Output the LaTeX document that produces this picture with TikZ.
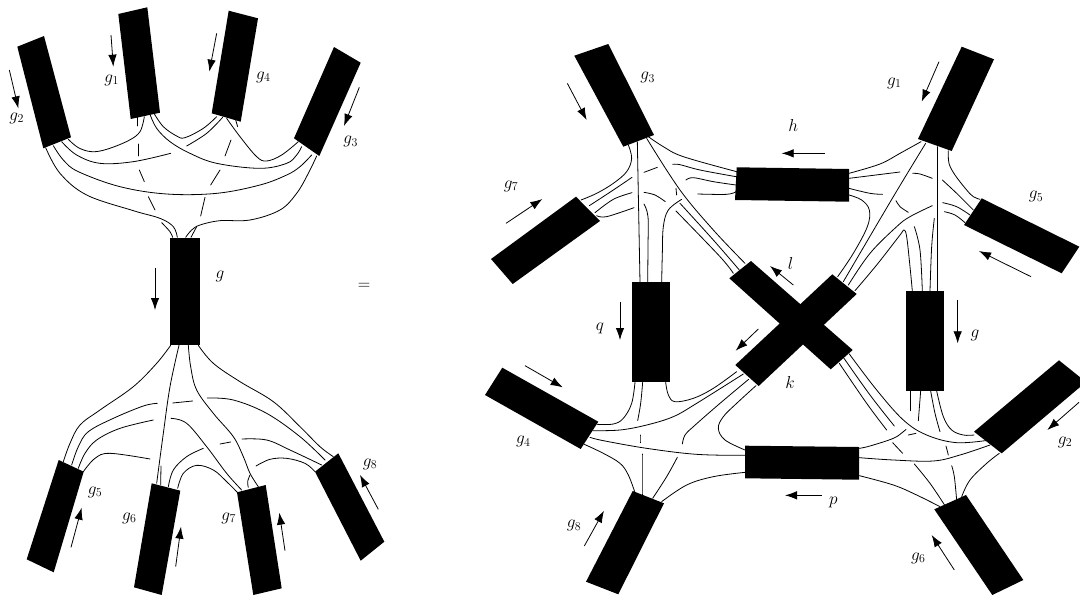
\documentclass[tikz,border=0pt]{standalone}
\usetikzlibrary{arrows.meta}
\tikzset{
  zoomview/.style 2 args={shift={(#1,#2)},x=0.33333pt,y=-0.33333pt},
  bar/.style={fill=black,draw=none},
  wire/.style={line width=0.8pt,line cap=round,line join=round},
  flow/.style={line width=0.8pt,-{Latex[length=12pt,width=8.5pt]}},
  lab/.style={inner sep=0pt,font=\LARGE}
}
\newcommand\wirepath[1]{\draw[wire] plot[smooth,tension=0.6] coordinates {#1};}
\begin{document}
\begin{tikzpicture}[x=1pt,y=-1pt]
\useasboundingbox (0,0) rectangle (1080,595);
\clip (0,0) rectangle (1080,595);
% left blocks
\fill[bar] (17.3,46.7)--(44,36)--(71,137.3)--(43.3,148.3)--cycle;
\fill[bar] (118.3,14)--(147.3,7.3)--(160,112.7)--(130.7,119)--cycle;
\fill[bar] (228.7,10.7)--(258,18.3)--(240.7,121.7)--(211.7,113.3)--cycle;
\fill[bar] (334,47)--(360.7,62.7)--(319.3,156)--(294,138.3)--cycle;
\fill[bar] (170,238) rectangle (200,345);
\fill[bar] (58.7,460)--(83.7,471.7)--(53.7,572.3)--(26.7,559.3)--cycle;
\fill[bar] (151.7,483.3)--(180.3,490.7)--(161.7,595)--(134,587.3)--cycle;
\fill[bar] (237,492.3)--(265.7,485)--(281.7,588.3)--(253.3,595)--cycle;
\fill[bar] (315,471.7)--(338.3,453.3)--(384.3,541.7)--(360.7,560.7)--cycle;
% right blocks
\fill[bar] (574.3,55.7)--(608.3,44)--(654,135)--(623.3,146.7)--cycle;
\fill[bar] (576,196.7)--(600,221)--(512.7,284)--(491,259)--cycle;
\fill[bar] (736.7,167.3)--(849,169)--(849,201.7)--(735,200)--cycle;
\fill[bar] (631.7,282.3) rectangle (670.3,381.7);
\fill[bar] (906,291) rectangle (944.3,391);
\fill[bar] (961.7,46.7)--(994,59.3)--(951.7,151)--(918,139)--cycle;
\fill[bar] (981.7,198.3)--(1079.3,246.7)--(1061.7,273.3)--(964,225)--cycle;
\fill[bar] (751,261)--(729.3,278.3)--(830.7,369.3)--(852.7,350)--cycle;
\fill[bar] (735.3,365)--(758.7,386)--(856.7,294)--(832.3,274.3)--cycle;
\fill[bar] (1059,360.3)--(1086,382)--(1001.7,453.3)--(974,431.7)--cycle;
\fill[bar] (934.3,509.3)--(966,495)--(1023.3,580)--(992.3,595)--cycle;
\fill[bar] (745,445.7)--(859,447)--(859,479.7)--(745,478.3)--cycle;
\fill[bar] (502.3,367.7)--(598.3,421.7)--(580.7,449)--(485,395)--cycle;
\fill[bar] (632.7,491)--(664,503.3)--(618.3,594.3)--(586,581.7)--cycle;
% top-left
\begin{scope}[zoomview={0}{0}]
\wirepath{(205,418)(235,443)(275,455)(320,448)(385,422)(420,395)(433,350)}
\wirepath{(185,425)(230,465)(300,490)(400,485)(512,460)}
\wirepath{(560,438)(620,400)(668,352)}
\wirepath{(160,437)(190,480)(235,515)(360,560)(500,582)(650,580)(780,555)(860,525)(900,500)(935,465)}
\wirepath{(137,443)(180,520)(260,585)(400,632)(480,655)(520,680)(532,712)}
\wirepath{(450,343)(470,385)(510,425)(570,460)(650,490)(780,505)(860,490)(890,465)(905,440)}
\wirepath{(462,340)(490,380)(530,408)(555,413)(610,385)(650,350)}
\wirepath{(680,355)(720,410)(770,470)(800,483)(845,465)(895,425)}
\wirepath{(950,468)(925,520)(890,580)(840,630)(750,660)(660,662)(600,675)(575,690)(557,712)}
\wirepath{(412,352)(412,378)}
\wirepath{(416,432)(416,468)}
\wirepath{(418,510)(433,545)}
\wirepath{(445,590)(465,630)}
\wirepath{(485,668)(510,695)(518,712)}
\wirepath{(707,360)(713,380)}
\wirepath{(693,420)(675,468)}
\wirepath{(660,510)(632,555)}
\wirepath{(615,592)(602,648)}
\wirepath{(590,680)(573,712)}
\draw[flow] (333,105)--(340,200);
\draw[flow] (28,210)--(55,325);
\draw[flow] (650,100)--(628,215);
\draw[flow] (1078,262)--(1032,378);
\draw[flow] (465,805)--(465,930);
\node[lab] (lg1) at (335,240) {$g_1$};
\node[lab] (lg2) at (50,355) {$g_2$};
\node[lab] (lg4) at (790,232) {$g_4$};
\node[lab] (lg3) at (1052,425) {$g_3$};
\node[lab] (lg) at (660,830) {$g$};
\node[lab] (eq) at (1092,858) {$=$};
\end{scope}
% bottom-left
\begin{scope}[zoomview={0}{330}]
\wirepath{(512,46)(470,100)(400,170)(300,240)(240,285)(210,340)(190,395)}
\wirepath{(537,46)(510,170)(490,310)(470,460)}
\wirepath{(565,46)(572,110)(590,180)(640,250)(700,320)(730,380)(750,430)(775,470)}
\wirepath{(595,46)(640,100)(720,155)(820,215)(900,290)(960,350)(1000,380)}
\wirepath{(215,405)(235,350)(265,305)(340,265)(430,228)(472,220)}
\wirepath{(518,219)(578,213)}
\wirepath{(622,204)(700,210)(800,250)(900,320)(975,390)}
\wirepath{(235,415)(255,370)(290,330)(360,295)(460,270)}
\wirepath{(513,265)(560,280)(620,350)(680,430)(725,480)}
\wirepath{(250,425)(285,385)(330,370)(450,387)}
\wirepath{(768,408)(810,388)(860,385)(915,400)(945,425)}
\wirepath{(483,408)(482,465)}
\wirepath{(505,470)(520,420)(560,380)(610,355)}
\wirepath{(660,342)(692,336)}
\wirepath{(726,327)(800,330)(870,360)(965,405)}
\wirepath{(533,475)(550,430)(590,406)(640,420)(680,455)(712,487)}
\wirepath{(750,435)(743,455)(745,472)}
\draw[flow] (213,652)--(245,533);
\draw[flow] (527,710)--(543,590);
\draw[flow] (855,662)--(838,548);
\draw[flow] (1135,538)--(1080,435);
\node[lab] (lg5) at (285,487) {$g_5$};
\node[lab] (lg6) at (388,565) {$g_6$};
\node[lab] (lg7) at (686,565) {$g_7$};
\node[lab] (lg8) at (1110,402) {$g_8$};
\end{scope}
% right, top-left
\begin{scope}[zoomview={480}{40}]
\wirepath{(505,290)(550,320)(610,350)(770,395)}
\wirepath{(578,373)(600,374)(660,390)(768,410)}
\wirepath{(618,420)(640,413)(700,425)(768,435)}
\wirepath{(653,462)(740,463)(768,455)}
\wirepath{(500,295)(600,450)(700,570)(795,670)}
\wirepath{(472,305)(480,727)}
\wirepath{(445,315)(455,355)(440,395)(400,430)(350,460)(303,480)}
\wirepath{(328,497)(400,450)(456,412)}
\wirepath{(492,397)(532,382)}
\wirepath{(345,518)(400,478)(456,458)}
\wirepath{(492,457)(525,465)(556,485)}
\wirepath{(350,527)(380,530)(462,503)}
\wirepath{(503,727)(504,620)(504,530)(492,492)}
\wirepath{(545,727)(547,640)(550,560)(565,510)(605,478)}
\wirepath{(600,490)(700,600)(778,690)}
\wirepath{(588,513)(720,650)(760,700)}
\wirepath{(588,445)(590,465)}
\draw[flow] (262,130)--(320,240);
\draw[flow] (78,550)--(187,477);
\draw[flow] (940,735)--(870,678);
\node[lab] (rg3) at (503,113) {$g_3$};
\node[lab] (rg7) at (93,438) {$g_7$};
\node[lab] (rh) at (940,257) {$h$};
\node[lab] (rl) at (932,670) {$l$};
\end{scope}
% right, top-right
\begin{scope}[zoomview={760}{40}]
\wirepath{(267,400)(360,372)(420,340)(483,305)}
\wirepath{(267,415)(420,396)}
\wirepath{(458,400)(480,402)(517,415)}
\wirepath{(267,445)(330,460)(368,463)}
\wirepath{(267,465)(305,480)(328,510)(322,560)(280,640)(233,710)}
\wirepath{(497,310)(400,470)(250,725)}
\wirepath{(533,320)(533,753)}
\wirepath{(565,332)(567,370)(585,405)(620,450)(640,470)(660,478)}
\wirepath{(547,420)(590,460)(640,510)}
\wirepath{(548,488)(590,500)(630,525)}
\wirepath{(553,515)(585,525)(615,548)}
\wirepath{(408,482)(420,500)(445,517)}
\wirepath{(265,735)(330,640)(410,560)(450,530)(517,497)}
\wirepath{(285,752)(350,675)(420,585)(432,570)(440,590)(450,680)(457,753)}
\wirepath{(463,560)(480,630)(487,753)}
\wirepath{(523,535)(515,620)(510,753)}
\draw[flow] (195,340)--(65,340);
\draw[flow] (537,65)--(485,185);
\draw[flow] (813,710)--(657,633);
\node[lab] (rg1) at (403,130) {$g_1$};
\node[lab] (rg5) at (828,470) {$g_5$};
\end{scope}
% right, bottom-left
\begin{scope}[zoomview={480}{300}]
\wirepath{(465,247)(455,310)(430,355)(400,372)(352,373)}
\wirepath{(488,247)(482,310)(473,362)}
\wirepath{(480,405)(480,428)}
\wirepath{(486,462)(486,585)}
\wirepath{(557,247)(565,285)(585,305)(640,295)(700,265)(770,215)}
\wirepath{(338,392)(420,390)(500,375)(580,350)(650,310)(790,222)}
\wirepath{(330,412)(370,422)(500,445)(650,463)(795,466)}
\wirepath{(313,433)(370,460)(420,490)(445,525)(465,578)}
\wirepath{(806,238)(720,310)(640,380)(615,405)(607,432)}
\wirepath{(592,472)(560,530)(518,595)}
\wirepath{(828,257)(770,310)(730,350)(715,385)(735,420)(795,450)}
\wirepath{(795,517)(700,530)(620,555)(545,605)}
\draw[flow] (420,5)--(420,120);
\draw[flow] (835,87)--(767,152);
\draw[flow] (135,197)--(248,262);
\draw[flow] (313,738)--(372,632);
\node[lab] (rq) at (360,85) {$q$};
\node[lab] (rg4) at (130,425) {$g_4$};
\node[lab] (rk) at (930,247) {$k$};
\node[lab] (rg8) at (282,677) {$g_8$};
\end{scope}
% right, bottom-right
\begin{scope}[zoomview={760}{300}]
\wirepath{(268,162)(350,270)(430,360)(500,405)(590,428)(690,420)}
\wirepath{(250,172)(330,285)(403,378)}
\wirepath{(238,190)(320,310)(380,390)}
\wirepath{(298,445)(330,438)(400,415)(430,395)(438,388)}
\wirepath{(445,405)(468,400)}
\wirepath{(398,428)(428,460)}
\wirepath{(298,473)(400,480)(520,483)(600,465)(690,435)}
\wirepath{(463,492)(510,550)(555,617)}
\wirepath{(298,527)(400,555)(470,585)(540,620)}
\wirepath{(451,273)(451,332)}
\wirepath{(482,273)(475,362)}
\wirepath{(512,273)(525,340)(540,395)}
\wirepath{(558,438)(565,465)}
\wirepath{(575,497)(583,530)(590,600)}
\wirepath{(530,273)(550,350)(575,390)(610,405)(642,405)}
\wirepath{(718,460)(680,490)(630,540)(605,590)}
\draw[flow] (593,0)--(593,130);
\draw[flow] (185,586)--(75,586);
\draw[flow] (957,307)--(862,390);
\draw[flow] (583,810)--(515,705);
\node[lab] (rp) at (220,607) {$p$};
\node[lab] (rg) at (645,105) {$g$};
\node[lab] (rg2) at (915,427) {$g_2$};
\node[lab] (rg6) at (475,775) {$g_6$};
\end{scope}
\end{tikzpicture}
\end{document}
